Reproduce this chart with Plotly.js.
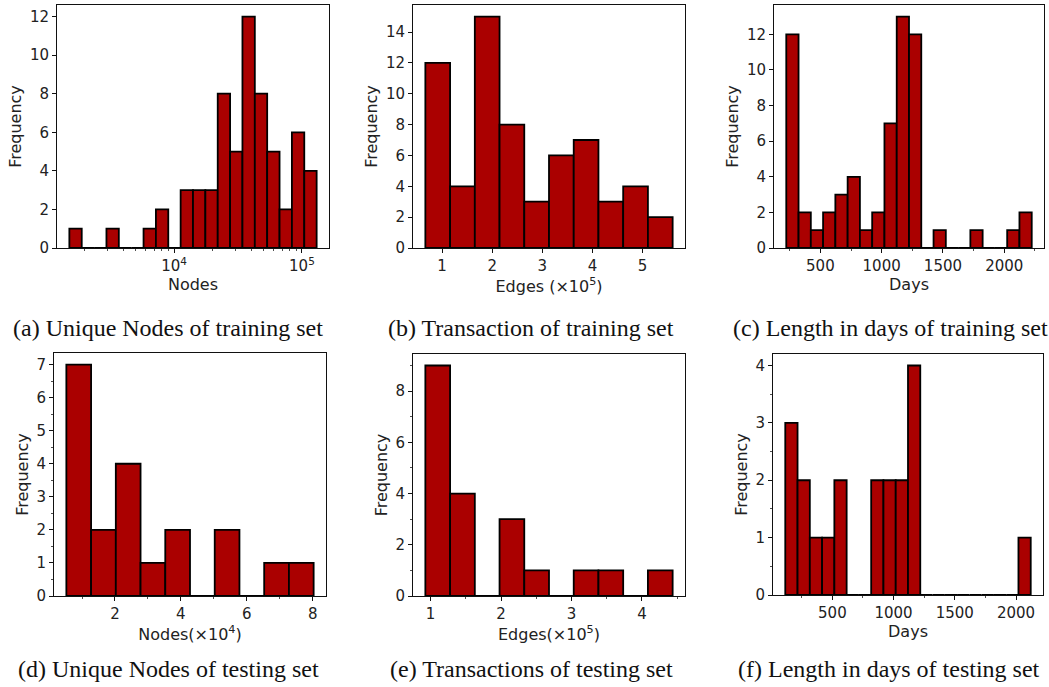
<!DOCTYPE html>
<html>
<head>
<meta charset="utf-8">
<script src="https://cdn.plot.ly/plotly-3.0.1.min.js"></script>
<style>html,body{margin:0;padding:0;background:#fff;}#chart{width:1049px;height:687px;}</style>
</head>
<body>
<div id="chart"></div>
<script>
// ---- data (histogram counts and bin ranges) ----
// (a) unique nodes, training set: log10-spaced bins
const aCounts = [1,0,0,1,0,0,1,2,0,3,3,3,8,5,12,8,5,2,6,4];
const aLogMin = 3.18, aLogMax = 5.115;           // log10(nodes)
const aTickVals = [4, 5];
const aTickText = ['10<sup>4</sup>', '10<sup>5</sup>'];
// (b) transactions, training set (x 1e5)
const bCounts = [12,4,15,8,3,6,7,3,4,2];
const bMin = 0.668, bMax = 5.598;
// (c) length in days, training set
const cCounts = [12,2,1,2,3,4,1,2,7,13,12,0,1,0,0,1,0,0,1,2];
const cMin = 222, cMax = 2224;
// (d) unique nodes, testing set (x 1e4)
const dCounts = [7,2,4,1,2,0,2,0,1,1];
const dMin = 0.524, dMax = 8.03;
// (e) transactions, testing set (x 1e5)
const eCounts = [9,4,0,3,1,0,1,1,0,1];
const eMin = 0.927, eMax = 4.435;
// (f) length in days, testing set
const fCounts = [3,2,1,1,2,0,0,2,2,2,4,0,0,0,0,0,0,0,0,1];
const fMin = 115.5, fMax = 2120;

const xTitles = ['Nodes', 'Edges (×10<sup>5</sup>)', 'Days',
                 'Nodes(×10<sup>4</sup>)', 'Edges(×10<sup>5</sup>)', 'Days'];
const captions = ['(a) Unique Nodes of training set', '(b) Transaction of training set',
                  '(c) Length in days of training set', '(d) Unique Nodes of testing set',
                  '(e) Transactions of testing set', '(f) Length in days of testing set'];

// ---- layout geometry (pixels) ----
const W = 1049, H = 687;
const frames = [
  [57, 329, 5, 248], [413, 685, 5, 248], [774, 1044, 5, 248],
  [54, 326, 353, 596], [413, 685, 354, 596], [773, 1043, 354, 595]
];
const captionPos = [[168, 328], [531, 328], [890, 328], [168, 669], [531, 669], [889, 669]];
const panels = [
  {counts: aCounts, min: aLogMin, max: aLogMax, xt: {tickmode: 'array', tickvals: aTickVals, ticktext: aTickText}, ydt: 2, minorLog: true},
  {counts: bCounts, min: bMin, max: bMax, xt: {tickmode: 'linear', tick0: 0, dtick: 1}, ydt: 2},
  {counts: cCounts, min: cMin, max: cMax, xt: {tickmode: 'linear', tick0: 0, dtick: 500}, ydt: 2, xminor: 250},
  {counts: dCounts, min: dMin, max: dMax, xt: {tickmode: 'linear', tick0: 0, dtick: 2}, ydt: 1, xminor: 1, yminor: 0.5},
  {counts: eCounts, min: eMin, max: eMax, xt: {tickmode: 'linear', tick0: 0, dtick: 1}, ydt: 2, xminor: 0.5, yminor: 1},
  {counts: fCounts, min: fMin, max: fMax, xt: {tickmode: 'linear', tick0: 0, dtick: 500}, ydt: 1, xminor: 250, yminor: 0.5}
];

const tickFont = {family: 'DejaVu Sans', size: 15, color: '#222'};
const titleFont = {family: 'DejaVu Sans', size: 16, color: '#222'};
const traces = [];
const layout = {
  width: W, height: H, margin: {l: 0, r: 0, t: 0, b: 0},
  paper_bgcolor: '#fff', plot_bgcolor: '#fff', showlegend: false,
  bargap: 0, annotations: []
};

panels.forEach((p, i) => {
  const n = p.counts.length;
  const w = (p.max - p.min) / n;
  const centers = p.counts.map((_, k) => p.min + (k + 0.5) * w);
  const sfx = i === 0 ? '' : String(i + 1);
  traces.push({
    type: 'bar', x: centers, y: p.counts, width: w,
    xaxis: 'x' + sfx, yaxis: 'y' + sfx,
    marker: {color: '#aa0000', line: {color: '#000', width: 1.8}},
    hoverinfo: 'x+y'
  });
  const span = p.max - p.min;
  const ymax = Math.max(...p.counts) * 1.05;
  const f = frames[i];
  const xa = Object.assign({
    domain: [f[0] / W, f[1] / W], anchor: 'y' + sfx,
    range: [p.min - 0.05 * span, p.max + 0.05 * span],
    showgrid: false, zeroline: false, showline: true, mirror: true,
    linecolor: '#111', linewidth: 1.4, ticks: 'outside', ticklen: 3.5,
    tickcolor: '#111', tickwidth: 1, tickfont: tickFont,
    title: {text: xTitles[i], font: titleFont, standoff: 4}
  }, p.xt);
  if (p.minorLog) {
    const mv = [];
    [3, 4, 5].forEach(dec => { for (let k = 2; k <= 9; k++) mv.push(dec + Math.log10(k)); });
    xa.minor = {tickmode: 'array', tickvals: mv, ticks: 'outside', ticklen: 2, tickcolor: '#222', tickwidth: 0.8};
  } else if (p.xminor) {
    xa.minor = {dtick: p.xminor, ticks: 'outside', ticklen: 2, tickcolor: '#222', tickwidth: 0.8};
  }
  const ya = {
    domain: [1 - f[3] / H, 1 - f[2] / H], anchor: 'x' + sfx,
    range: [0, ymax], tickmode: 'linear', tick0: 0, dtick: p.ydt,
    showgrid: false, zeroline: false, showline: true, mirror: true,
    linecolor: '#111', linewidth: 1.4, ticks: 'outside', ticklen: 3.5,
    tickcolor: '#111', tickwidth: 1, tickfont: tickFont,
    title: {text: 'Frequency', font: titleFont, standoff: 4}
  };
  if (p.yminor) ya.minor = {dtick: p.yminor, ticks: 'outside', ticklen: 2, tickcolor: '#222', tickwidth: 0.8};
  layout['xaxis' + sfx] = xa;
  layout['yaxis' + sfx] = ya;
  layout.annotations.push({
    text: captions[i], xref: 'paper', yref: 'paper',
    x: captionPos[i][0] / W, y: 1 - captionPos[i][1] / H,
    xanchor: 'center', yanchor: 'middle', showarrow: false,
    font: {family: 'Liberation Serif', size: 24, color: '#111'}
  });
});

Plotly.newPlot('chart', traces, layout, {staticPlot: true});
</script>
</body>
</html>
